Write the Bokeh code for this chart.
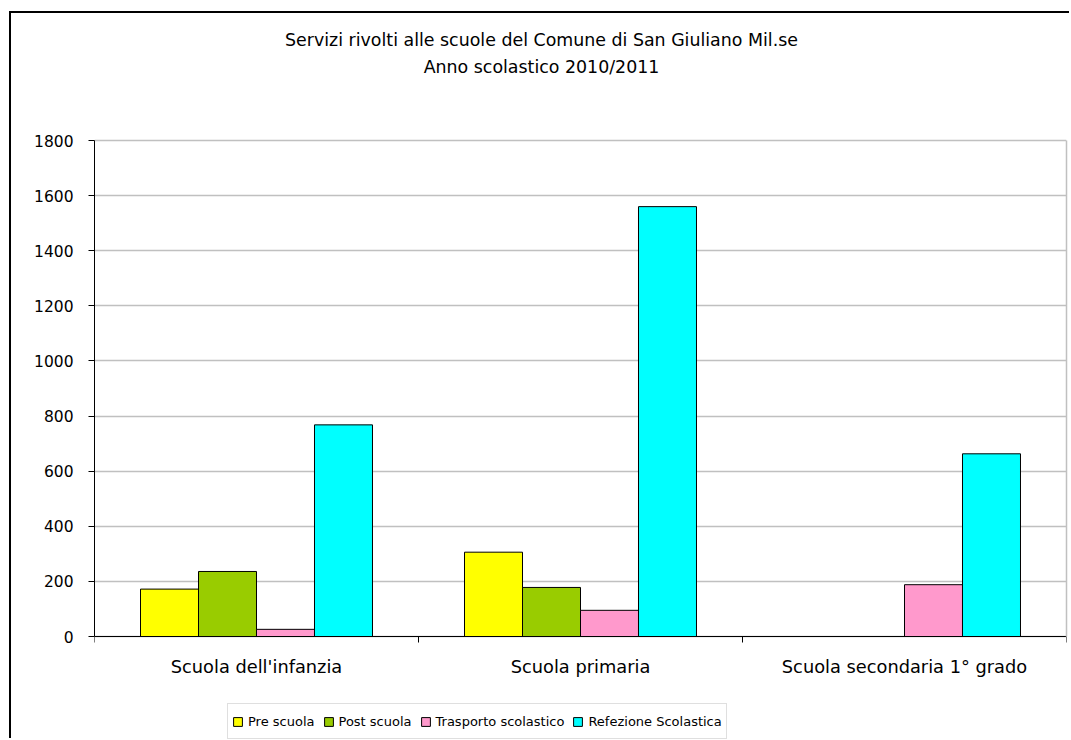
from bokeh.plotting import figure
from bokeh.models import (Range1d, LinearAxis, FixedTicker, Legend,
                          LegendItem, Label, ColumnDataSource)
from bokeh.core.properties import value
from bokeh.transform import dodge
from bokeh.embed import file_html
from bokeh.resources import INLINE

# ---- data ----
categories = ["Scuola dell'infanzia", "Scuola primaria", "Scuola secondaria 1° grado"]
series_names = ["Pre scuola", "Post scuola", "Trasporto scolastico", "Refezione Scolastica"]
pre_scuola = [172, 306, 0]
post_scuola = [236, 178, 0]
trasporto_scolastico = [26, 95, 188]
refezione_scolastica = [768, 1560, 663]
y_ticks = [0, 200, 400, 600, 800, 1000, 1200, 1400, 1600, 1800]
title_line1 = "Servizi rivolti alle scuole del Comune di San Giuliano Mil.se"
title_line2 = "Anno scolastico 2010/2011"

colors = ["#FFFF00", "#99CC00", "#FF99CC", "#00FFFF"]
FONT = "DejaVu Sans"

n_cat = len(categories)
cat_centers = [i + 0.5 for i in range(n_cat)]
bound_ticks = list(range(n_cat + 1))
y_min, y_max = 0, 1800

source = ColumnDataSource(data=dict(
    xc=cat_centers,
    base=[y_min] * n_cat,
    name=categories,
    pre=pre_scuola,
    post=post_scuola,
    tra=trasporto_scolastico,
    ref=refezione_scolastica,
))
cols = ["pre", "post", "tra", "ref"]

# layout (pixels): frame spans canvas y 10..727; value 0 at canvas y 623, 1800 at 127
H = 727
TOP = 10
PX_ZERO, PX_MAX = 623, 127
ppu = (PX_ZERO - PX_MAX) / (y_max - y_min)
y_lo = y_min - (H - PX_ZERO) / ppu
y_hi = y_max + (PX_MAX - TOP) / ppu

p = figure(
    x_range=Range1d(0, n_cat),
    y_range=Range1d(y_lo, y_hi),
    width=1060, height=H,
    x_axis_location="above",
    output_backend="svg", toolbar_location=None,
    min_border_left=83, min_border_right=5,
    min_border_top=TOP, min_border_bottom=0,
)
p.styles = {"margin-left": "9px", "margin-top": "11px",
            "border-left": "2px solid #000000", "border-top": "2px solid #000000"}
p.background_fill_color = "#FFFFFF"
p.border_fill_color = "#FFFFFF"
p.outline_line_color = None

# grid
p.xgrid.visible = False
p.ygrid.grid_line_color = "#C0C0C0"
p.ygrid.grid_line_width = 1.5
p.ygrid.ticker = FixedTicker(ticks=y_ticks)

# bars
bar_w = 0.179
renderers = []
for i, (c, col) in enumerate(zip(cols, colors)):
    off = (i - 1.5) * bar_w
    r = p.vbar(x=dodge("xc", off), top=c, bottom="base", width=bar_w,
               source=source, fill_color=col, line_color="#000000", line_width=1)
    renderers.append(r)

# y axis
ya = p.yaxis[0]
ya.ticker = FixedTicker(ticks=y_ticks)
ya.bounds = (y_min, y_max)
ya.axis_line_color = "#000000"
ya.axis_line_width = 1
ya.major_tick_line_color = "#000000"
ya.major_tick_out = 6
ya.major_tick_in = 0
ya.minor_tick_line_color = None
ya.major_label_text_font = FONT
ya.major_label_text_font_size = "15.5px"
ya.major_label_text_color = "#000000"
ya.major_label_standoff = 15

# right border of the plot area
ra = LinearAxis(ticker=FixedTicker(ticks=[]), bounds=(y_min, y_max))
ra.axis_line_color = "#C0C0C0"
ra.axis_line_width = 1.5
ra.major_tick_line_color = None
ra.minor_tick_line_color = None
ra.major_tick_out = 0
ra.major_label_text_font_size = "1px"
ra.major_label_standoff = 0
p.add_layout(ra, "right")

# x axis line at value 0 with ticks at category boundaries
ta = p.xaxis[0]
ta.fixed_location = y_min
ta.ticker = FixedTicker(ticks=bound_ticks)
ta.axis_line_color = "#000000"
ta.axis_line_width = 1
ta.major_tick_line_color = "#000000"
ta.major_tick_out = 0
ta.major_tick_in = 6
ta.minor_tick_line_color = None
ta.major_label_overrides = {t: "" for t in bound_ticks}
ta.major_label_text_font_size = "1px"
ta.major_label_standoff = 0

# category labels
p.text(x="xc", y="base", text="name", source=source, y_offset=30,
       text_align="center", text_baseline="middle",
       text_font=value(FONT), text_font_size=value("17.8px"), text_color="#000000")

# title (two lines)
for txt, ys in [(title_line1, H - 26), (title_line2, H - 53.5)]:
    p.add_layout(Label(x=447, y=ys, x_units="screen", y_units="screen", text=txt,
                       text_align="center", text_baseline="middle",
                       text_font=FONT, text_font_size="17.4px", text_color="#000000"))

# legend
legend = Legend(
    items=[LegendItem(label=n, renderers=[r]) for n, r in zip(series_names, renderers)],
    orientation="horizontal",
    location=(133, 1),
    margin=0,
    glyph_width=11, glyph_height=11,
    label_standoff=5, spacing=8, padding=4,
    label_height=26,
    label_text_font=FONT, label_text_font_size="13px", label_text_color="#000000",
    border_line_color="#C0C0C0", border_line_width=1.5,
    background_fill_color="#FFFFFF",
)
p.add_layout(legend, "center")

open("out.html", "w").write(file_html(p, INLINE))
